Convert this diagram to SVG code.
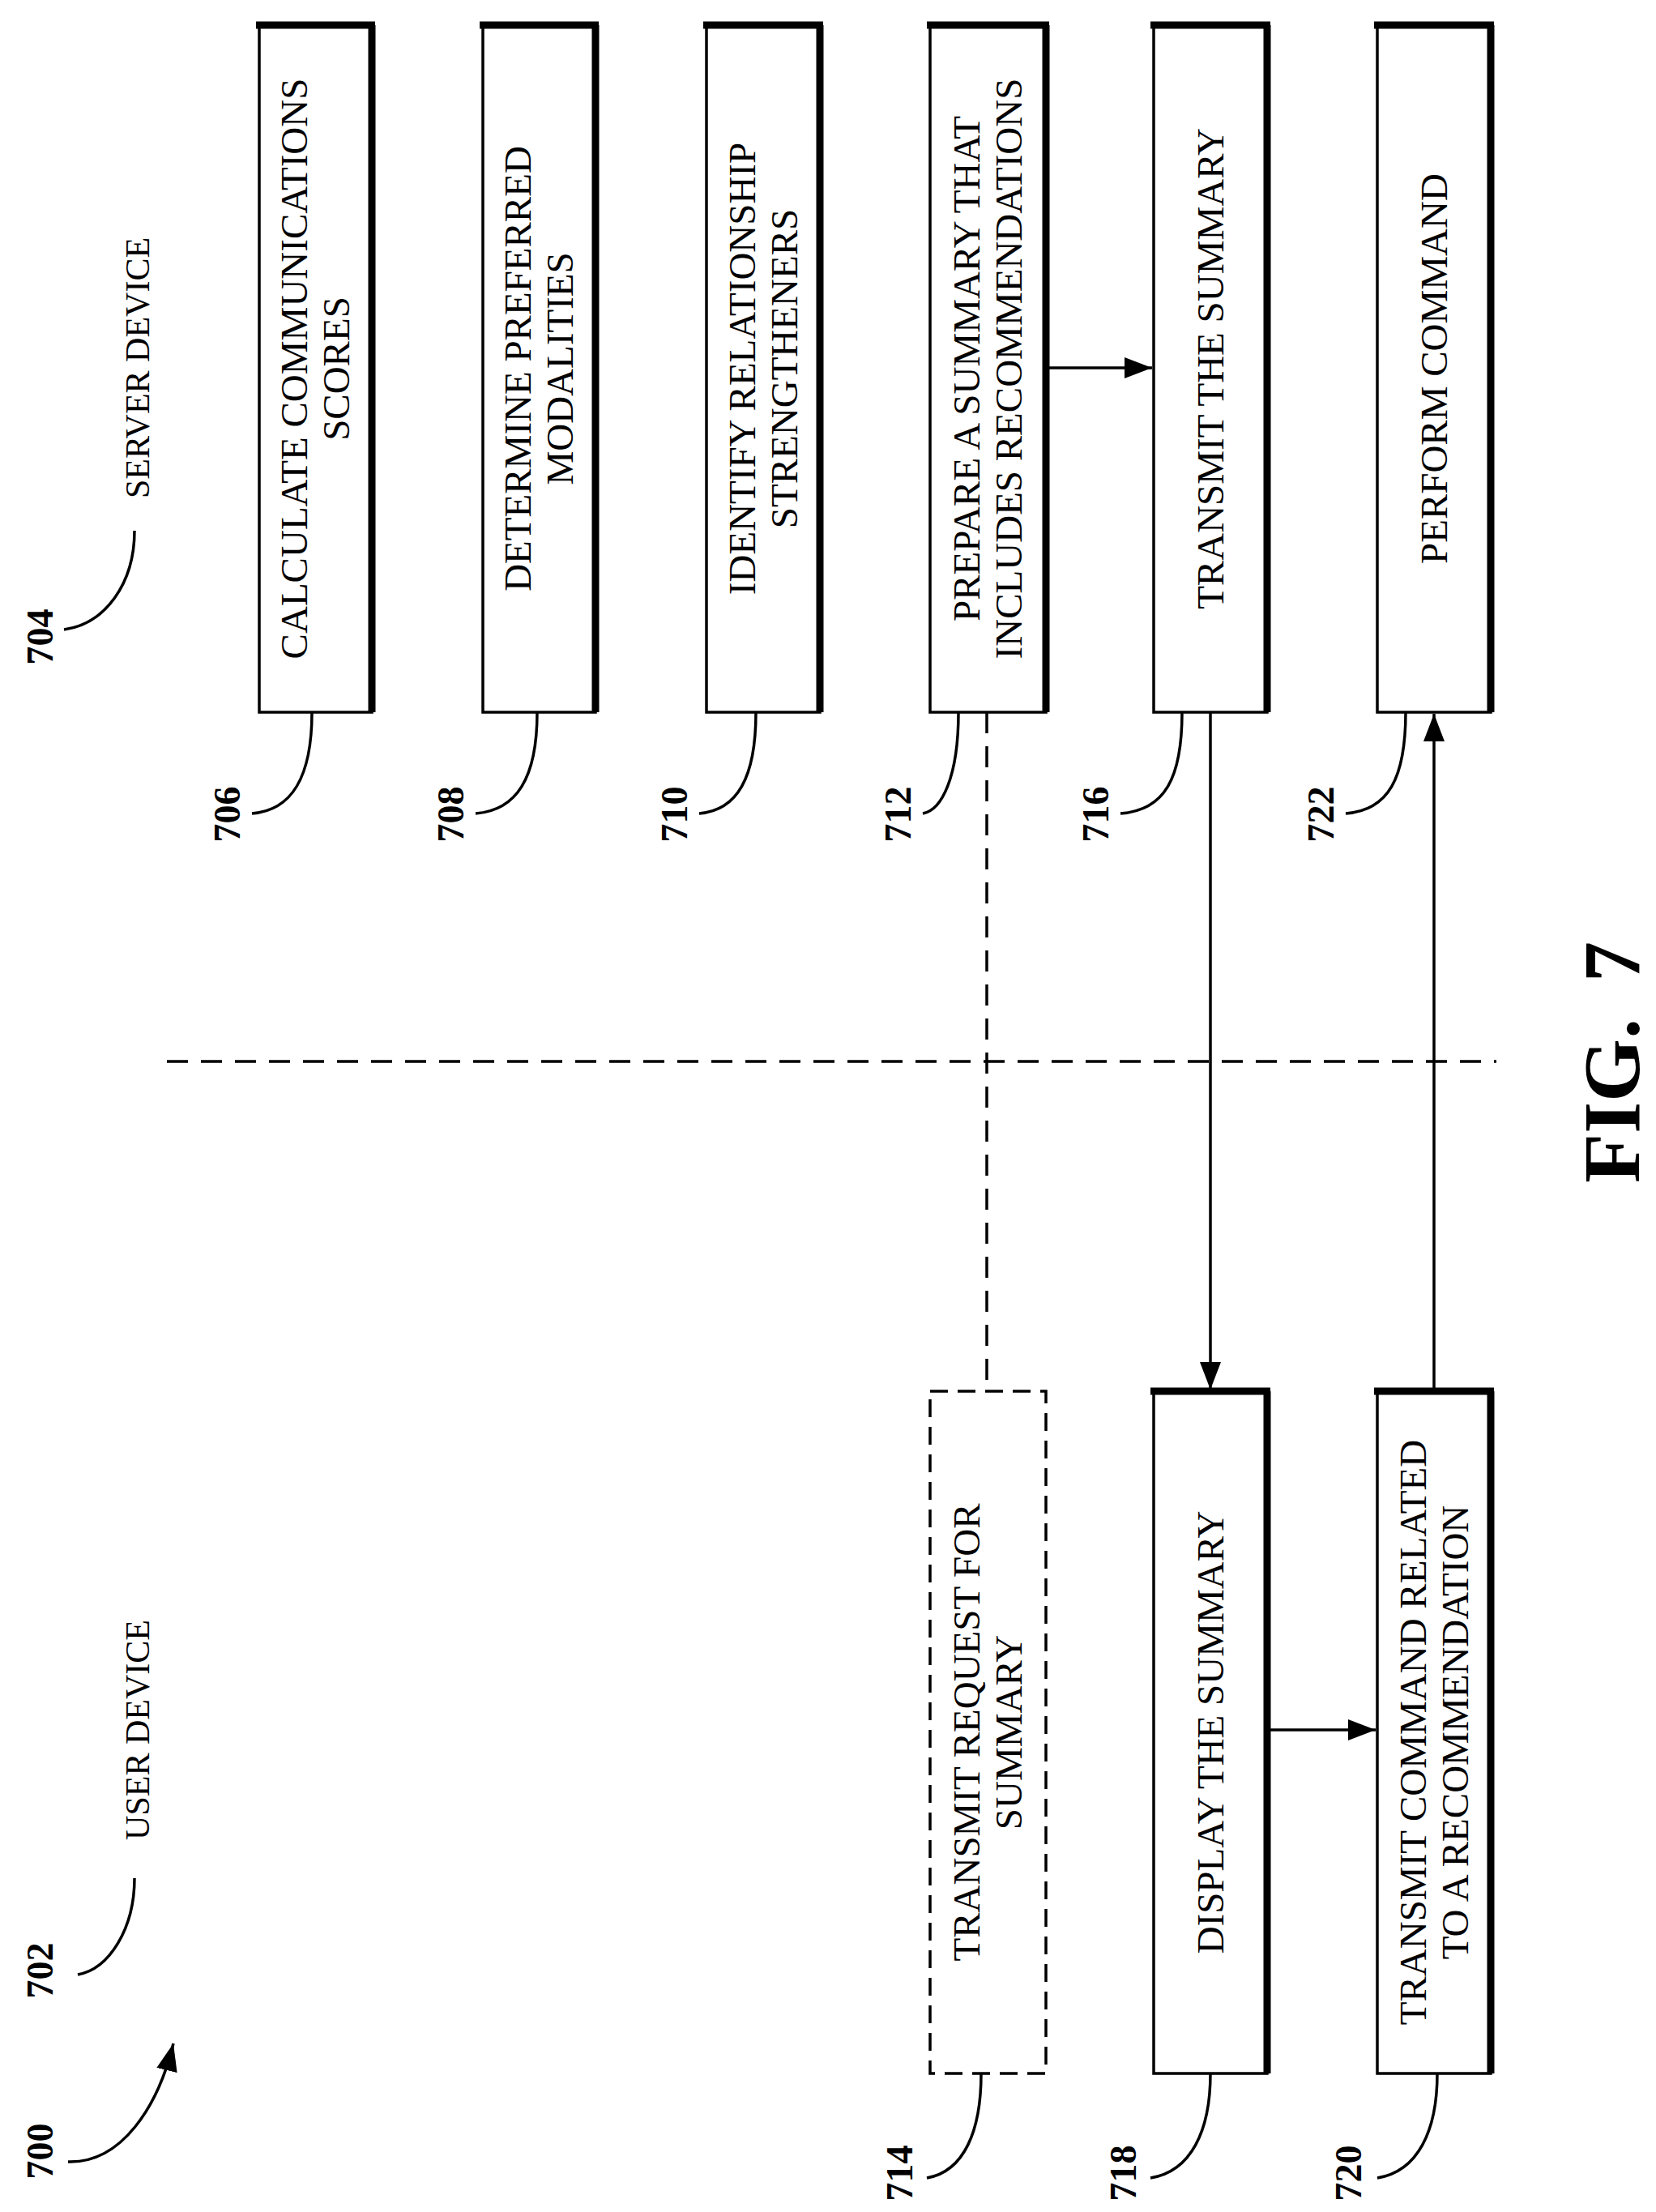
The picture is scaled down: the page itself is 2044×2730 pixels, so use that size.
<svg xmlns="http://www.w3.org/2000/svg" width="2044" height="2730" viewBox="0 0 2044 2730">
<defs>
<style>
.box{fill:#fff;stroke:#000;stroke-width:3.5}
.thick{stroke:#000;stroke-width:9;fill:none}
.t{font-family:"Liberation Serif",serif;font-size:47px;text-anchor:middle;dominant-baseline:central}
.n{font-family:"Liberation Serif",serif;font-size:46px;font-weight:bold;text-anchor:middle;dominant-baseline:central}
.ld{fill:none;stroke:#000;stroke-width:3.5}
.c{fill:none;stroke:#000;stroke-width:3.5}
</style>
<marker id="ah2" markerWidth="34" markerHeight="26" refX="34" refY="13" orient="auto" markerUnits="userSpaceOnUse" viewBox="0 0 34 26">
<path d="M0 0L34 13L0 26z" fill="#000"/>
</marker>
</defs>
<rect width="2044" height="2730" fill="#fff"/>

<g id="lane-labels">
<text class="t" transform="translate(170,454) rotate(-90)" style="font-size:42px">SERVER DEVICE</text>
<path class="ld" d="M166 655C166 720 130 770 79 777"/>
<text class="n" transform="translate(49,786) rotate(-90)">704</text>
<text class="t" transform="translate(170,2135) rotate(-90)" style="font-size:42px">USER DEVICE</text>
<path class="ld" d="M166 2318C166 2380 135 2430 96 2437"/>
<text class="n" transform="translate(49,2432) rotate(-90)">702</text>
<path class="ld" d="M84 2668C150 2670 195 2600 214 2522" marker-end="url(#ah2)"/>
<text class="n" transform="translate(49,2655) rotate(-90)">700</text>
</g>

<g id="n706">
<rect class="box" x="320" y="31" width="139" height="848"/>
<path class="thick" d="M316 31H463M459 31V879"/>
<text class="t" transform="translate(389,455) rotate(-90)"><tspan x="0" dy="-26">CALCULATE COMMUNICATIONS</tspan><tspan x="0" dy="52">SCORES</tspan></text>
<path class="ld" d="M385 879C385 960 360 1000 311 1004"/>
<text class="n" transform="translate(280,1005) rotate(-90)">706</text>
</g>
<g id="n708">
<rect class="box" x="596" y="31" width="139" height="848"/>
<path class="thick" d="M592 31H739M735 31V879"/>
<text class="t" transform="translate(665,455) rotate(-90)"><tspan x="0" dy="-26">DETERMINE PREFERRED</tspan><tspan x="0" dy="52">MODALITIES</tspan></text>
<path class="ld" d="M663 879C663 960 638 1000 587 1004"/>
<text class="n" transform="translate(556,1005) rotate(-90)">708</text>
</g>
<g id="n710">
<rect class="box" x="872" y="31" width="140" height="848"/>
<path class="thick" d="M868 31H1016M1012 31V879"/>
<text class="t" transform="translate(942,455) rotate(-90)"><tspan x="0" dy="-26">IDENTIFY RELATIONSHIP</tspan><tspan x="0" dy="52">STRENGTHENERS</tspan></text>
<path class="ld" d="M933 879C933 960 910 1000 863 1004"/>
<text class="n" transform="translate(832,1005) rotate(-90)">710</text>
</g>
<g id="n712">
<rect class="box" x="1148" y="31" width="143" height="848"/>
<path class="thick" d="M1144 31H1295M1291 31V879"/>
<text class="t" transform="translate(1219,455) rotate(-90)"><tspan x="0" dy="-26">PREPARE A SUMMARY THAT</tspan><tspan x="0" dy="52">INCLUDES RECOMMENDATIONS</tspan></text>
<path class="ld" d="M1183 879C1183 960 1162 1000 1139 1004"/>
<text class="n" transform="translate(1108,1005) rotate(-90)">712</text>
</g>
<g id="n716">
<rect class="box" x="1424" y="31" width="140" height="848"/>
<path class="thick" d="M1420 31H1568M1564 31V879"/>
<text class="t" transform="translate(1494,455) rotate(-90)">TRANSMIT THE SUMMARY</text>
<path class="ld" d="M1459 879C1459 960 1438 1000 1383 1004"/>
<text class="n" transform="translate(1352,1005) rotate(-90)">716</text>
</g>
<g id="n722">
<rect class="box" x="1700" y="31" width="140" height="848"/>
<path class="thick" d="M1696 31H1844M1840 31V879"/>
<text class="t" transform="translate(1770,455) rotate(-90)">PERFORM COMMAND</text>
<path class="ld" d="M1735 879C1735 960 1714 1000 1661 1004"/>
<text class="n" transform="translate(1630,1005) rotate(-90)">722</text>
</g>

<g id="n714">
<rect class="box" x="1148" y="1717" width="143" height="842" style="stroke-dasharray:22 12"/>
<text class="t" transform="translate(1219,2138) rotate(-90)"><tspan x="0" dy="-26">TRANSMIT REQUEST FOR</tspan><tspan x="0" dy="52">SUMMARY</tspan></text>
<path class="ld" d="M1211 2559C1211 2630 1190 2680 1144 2688"/>
<text class="n" transform="translate(1110,2682) rotate(-90)">714</text>
</g>
<g id="n718">
<rect class="box" x="1424" y="1717" width="140" height="842"/>
<path class="thick" d="M1420 1717H1568M1564 1717V2559"/>
<text class="t" transform="translate(1494,2138) rotate(-90)">DISPLAY THE SUMMARY</text>
<path class="ld" d="M1494 2559C1494 2630 1470 2680 1420 2688"/>
<text class="n" transform="translate(1386,2682) rotate(-90)">718</text>
</g>
<g id="n720">
<rect class="box" x="1700" y="1717" width="140" height="842"/>
<path class="thick" d="M1696 1717H1844M1840 1717V2559"/>
<text class="t" transform="translate(1770,2138) rotate(-90)"><tspan x="0" dy="-26">TRANSMIT COMMAND RELATED</tspan><tspan x="0" dy="52">TO A RECOMMENDATION</tspan></text>
<path class="ld" d="M1774 2559C1774 2630 1750 2680 1700 2688"/>
<text class="n" transform="translate(1664,2682) rotate(-90)">720</text>
</g>

<g id="connectors">
<line class="c" x1="206" y1="1310" x2="1847" y2="1310" style="stroke-dasharray:26 16"/>
<line class="c" x1="1218" y1="879" x2="1218" y2="1717" style="stroke-dasharray:26 16"/>
<line class="c" x1="1291" y1="454" x2="1422" y2="454" marker-end="url(#ah2)"/>
<line class="c" x1="1564" y1="2135" x2="1698" y2="2135" marker-end="url(#ah2)"/>
<line class="c" x1="1494" y1="879" x2="1494" y2="1715" marker-end="url(#ah2)"/>
<line class="c" x1="1770" y1="1717" x2="1770" y2="881" marker-end="url(#ah2)"/>
</g>

<text x="0" y="0" transform="translate(2023,1311) rotate(-90)" style="font-family:'Liberation Serif',serif;font-size:100px;font-weight:bold;text-anchor:middle;word-spacing:20px">FIG. 7</text>
</svg>
